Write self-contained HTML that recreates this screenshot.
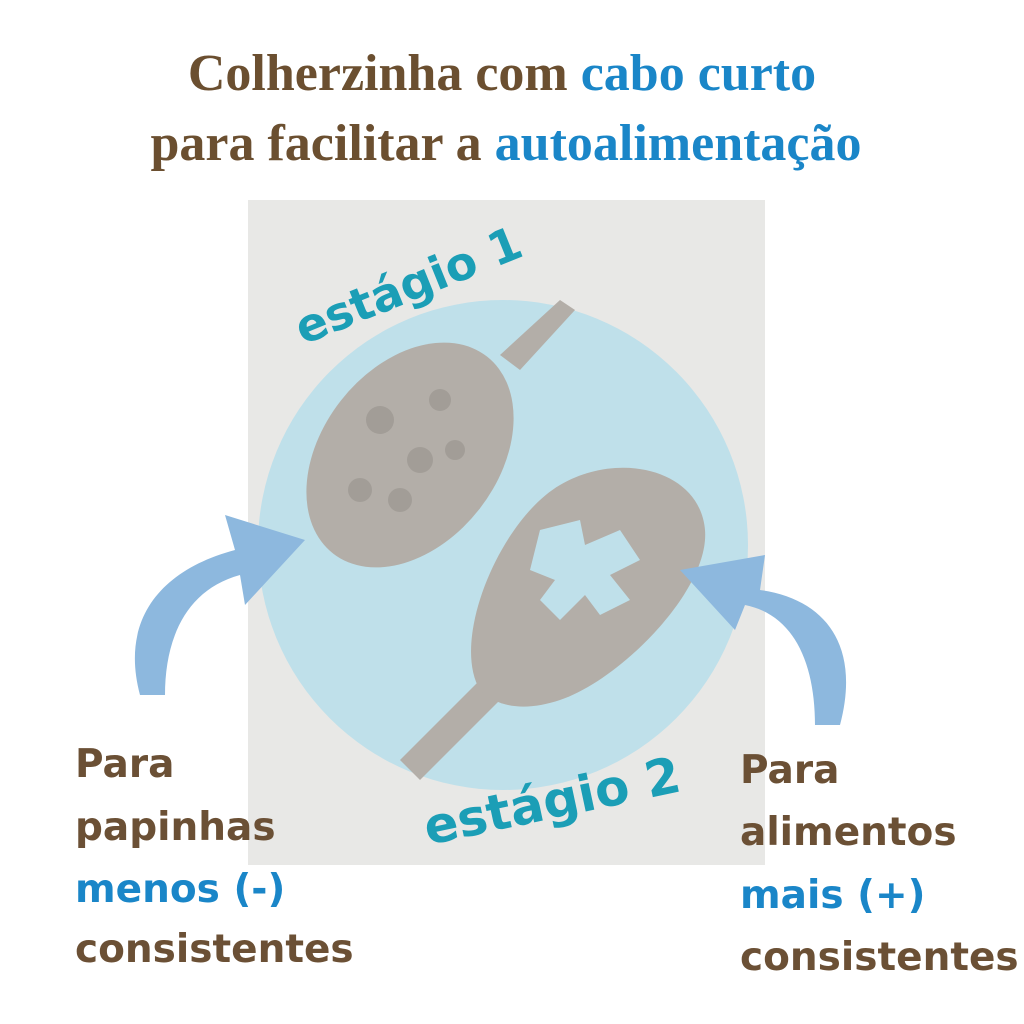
<!DOCTYPE html>
<html><head><meta charset="utf-8"><style>
html,body{margin:0;padding:0;background:#fff;width:1024px;height:1024px;overflow:hidden}
</style></head><body>
<svg width="1024" height="1024" viewBox="0 0 1024 1024" xmlns="http://www.w3.org/2000/svg">
<rect width="1024" height="1024" fill="#fff"/>
<g font-family="Liberation Serif, serif" font-weight="bold" font-size="52" text-anchor="middle">
<text x="502" y="90"><tspan fill="#6b4f30">Colherzinha com </tspan><tspan fill="#1a86c8">cabo curto</tspan></text>
<text x="506" y="160"><tspan fill="#6b4f30">para facilitar a </tspan><tspan fill="#1a86c8">autoalimentação</tspan></text>
</g>
<rect x="248" y="200" width="517" height="665" fill="#e8e8e6"/>
<circle cx="503" cy="545" r="245" fill="#bfe0ea"/>
<!-- spoon 1 -->
<path d="M500 355 L560 300 L575 310 L520 370 Z" fill="#b3aea8"/>
<ellipse cx="410" cy="455" rx="125" ry="88" transform="rotate(-52 410 455)" fill="#b3aea8"/>
<g fill="#a29d97">
<circle cx="380" cy="420" r="14"/><circle cx="420" cy="460" r="13"/><circle cx="360" cy="490" r="12"/>
<circle cx="440" cy="400" r="11"/><circle cx="400" cy="500" r="12"/><circle cx="455" cy="450" r="10"/>
</g>
<!-- spoon 2 -->
<path d="M400 760 L480 680 L500 700 L420 780 Z" fill="#b3aea8"/>
<path d="M480 690 C450 640 500 520 560 485 C620 450 700 470 705 530 C710 590 620 680 560 700 C530 710 500 710 480 690 Z" fill="#b3aea8"/>
<path d="M540 530 L580 520 L585 545 L620 530 L640 560 L610 575 L630 600 L600 615 L585 595 L560 620 L540 600 L555 580 L530 570 Z" fill="#bfe0ea"/>
<g font-family="DejaVu Sans, sans-serif" font-weight="bold" fill="#1b9eb6">
<text x="303" y="345" font-size="46" transform="rotate(-22 303 345)">estágio 1</text>
<text x="428" y="845" font-size="50" transform="rotate(-12 428 845)">estágio 2</text>
</g>
<path d="M140 695 C120 620 160 570 235 550 L225 515 L305 540 L245 605 L240 575 C185 590 165 640 165 695 Z" fill="#8db8de"/>
<path d="M840 725 C860 650 830 600 760 590 L765 555 L680 570 L735 630 L745 605 C795 615 815 665 815 725 Z" fill="#8db8de"/>
<g font-family="DejaVu Sans, sans-serif" font-weight="bold" font-size="39">
<text x="75" y="777" fill="#6b5035">Para</text>
<text x="75" y="840" fill="#6b5035">papinhas</text>
<text x="75" y="902" fill="#1a86c8">menos (-)</text>
<text x="75" y="962" fill="#6b5035">consistentes</text>
<text x="740" y="783" fill="#6b5035">Para</text>
<text x="740" y="845" fill="#6b5035">alimentos</text>
<text x="740" y="908" fill="#1a86c8">mais (+)</text>
<text x="740" y="970" fill="#6b5035">consistentes</text>
</g>
</svg>
</body></html>
